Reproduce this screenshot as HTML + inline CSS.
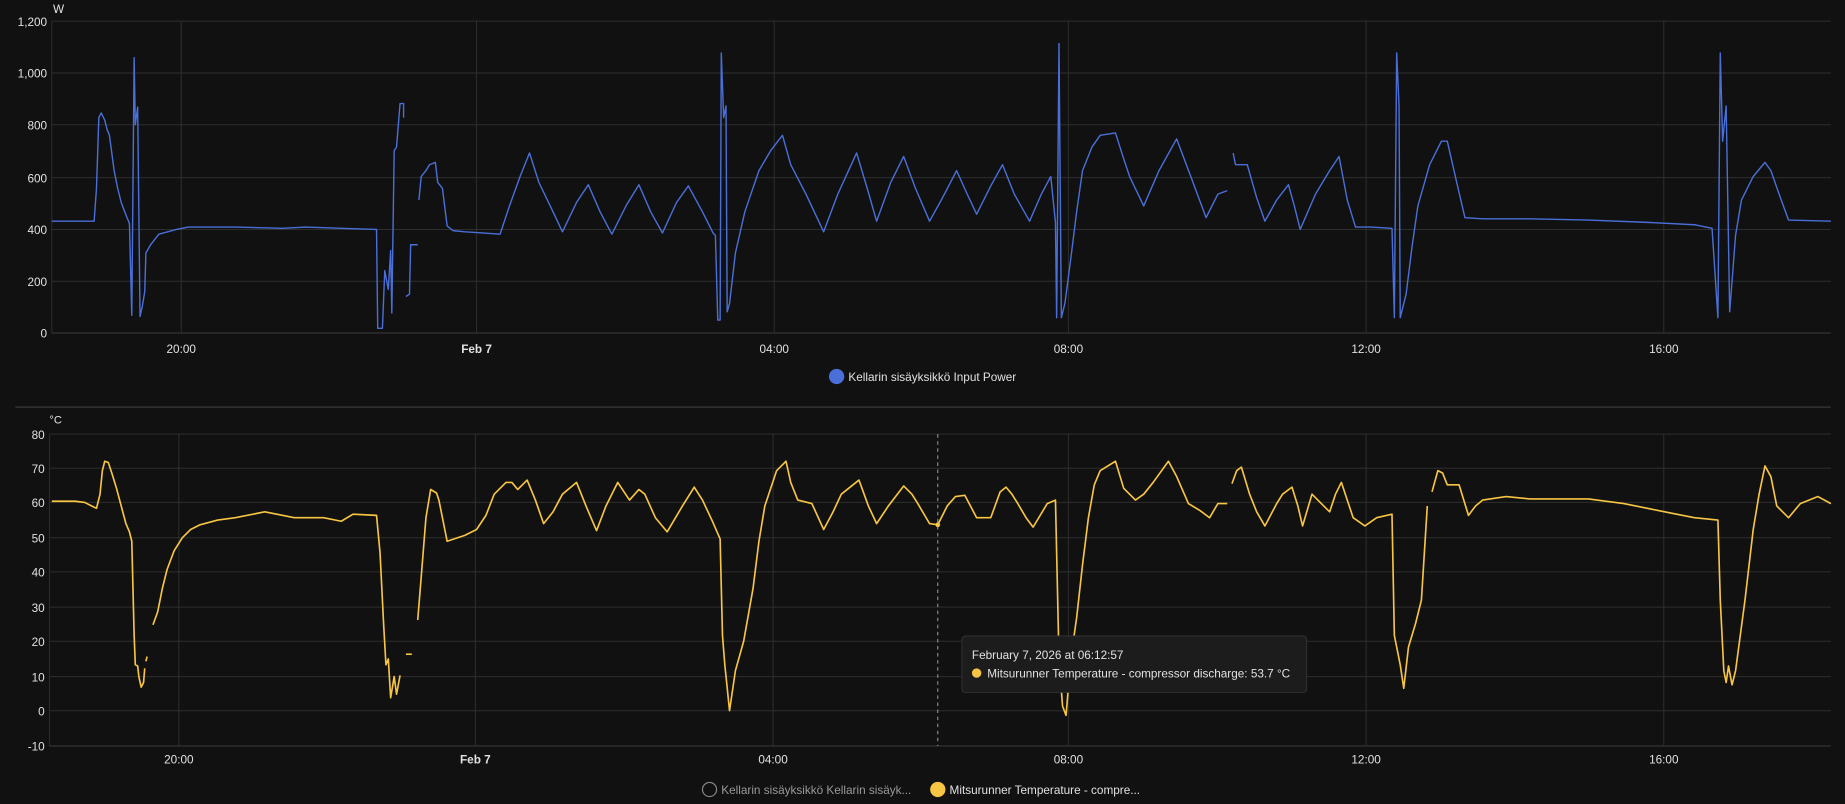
<!DOCTYPE html>
<html><head><meta charset="utf-8"><style>
html,body{margin:0;padding:0;background:#111111;width:1845px;height:804px;overflow:hidden}
svg{display:block}
text{font-family:"Liberation Sans",sans-serif;fill:#e1e1e1}
</style></head><body>
<svg width="1845" height="804" viewBox="0 0 1568 683.3" preserveAspectRatio="none">
<rect width="1568" height="684" fill="#111111"/>
<g stroke="#2e2e2e" stroke-width="0.85">
<line x1="44" y1="18" x2="1556" y2="18"/><line x1="44" y1="62" x2="1556" y2="62"/><line x1="44" y1="106" x2="1556" y2="106"/><line x1="44" y1="151" x2="1556" y2="151"/><line x1="44" y1="195" x2="1556" y2="195"/><line x1="44" y1="239" x2="1556" y2="239"/><line x1="44" y1="283" x2="1556" y2="283" stroke="#3a3a3a"/>
<line x1="44" y1="18" x2="44" y2="283"/>
<line x1="154" y1="18" x2="154" y2="283"/><line x1="405" y1="18" x2="405" y2="283"/><line x1="658" y1="18" x2="658" y2="283"/><line x1="908" y1="18" x2="908" y2="283"/><line x1="1161" y1="18" x2="1161" y2="283"/><line x1="1414" y1="18" x2="1414" y2="283"/>
</g>
<g font-size="10" text-anchor="end">
<text x="40" y="22">1,200</text><text x="40" y="66">1,000</text><text x="40" y="110">800</text><text x="40" y="155">600</text><text x="40" y="199">400</text><text x="40" y="243">200</text><text x="40" y="287">0</text>
</g>
<text x="45" y="11" font-size="10">W</text>
<g font-size="10" text-anchor="middle">
<text x="154" y="300">20:00</text><text x="405" y="300" font-weight="bold">Feb 7</text><text x="658" y="300">04:00</text><text x="908" y="300">08:00</text><text x="1161" y="300">12:00</text><text x="1414" y="300">16:00</text>
</g>
<circle cx="711" cy="320" r="6.5" fill="#4a6fd8"/>
<text x="721" y="324" font-size="10">Kellarin sisäyksikkö Input Power</text>
<g fill="none" stroke="#4a6fd8" stroke-width="1.2" stroke-linejoin="round">
<polyline points="44,188 80,188 82,160 84,100 86,96 89,102 91,110 93,115 95,130 97,145 100,160 103,172 106,180 110,190 112,268 114,49 115,106 117,91 119,269 121,260 123,248 124,215 128,208 135,199 150,195 160,193 200,193 240,194 260,193 290,194 320,195 321,279 325,279 327,230 330,246 332,213 333,266 335,128 337,125 340,88 343,88 343,100"/>
<polyline points="345,252 348,250 349,208 355,208"/>
<polyline points="356,170 358,150 362,145 365,140 370,138 372,155 376,160 380,192 385,196 395,197 410,198 425,199 433,175 442,150 450,130 458,155 470,180 478,197 490,172 500,157 510,180 520,199 532,175 543,157 553,180 563,198 575,172 585,158 597,180 606,198 608,200 610,272 612,272 613,45 615,100 617,90 618,265 620,258 625,215 633,180 645,145 655,128 665,115 672,140 685,165 700,197 712,165 728,130 737,160 745,188 757,155 768,133 778,160 790,188 800,170 813,145 822,165 830,182 842,158 852,140 862,165 875,188 885,165 893,150 897,189 898,270 900,37 902,270 905,258 910,220 915,180 920,145 928,125 935,115 948,113 955,135 960,150 972,175 985,145 1000,118 1012,150 1025,185 1035,165 1043,162"/>
<polyline points="1048,130 1050,140 1060,140 1068,168 1075,188 1085,170 1095,157 1100,175 1105,195 1118,165 1130,145 1138,133 1145,170 1152,193 1165,193 1183,194 1185,270 1187,45 1189,90 1190,270 1195,250 1200,210 1205,175 1215,140 1225,120 1230,120 1238,155 1245,185 1260,186 1300,186 1350,187 1400,189 1440,191 1455,194 1460,270 1462,45 1464,120 1467,90 1470,265 1475,200 1480,170 1490,150 1500,138 1505,145 1512,165 1520,187 1556,188"/>
</g>
<line x1="13" y1="346" x2="1556" y2="346" stroke="#333" stroke-width="1.2"/>
<g stroke="#2e2e2e" stroke-width="0.85">
<line x1="42" y1="369" x2="1556" y2="369"/><line x1="42" y1="398" x2="1556" y2="398"/><line x1="42" y1="427" x2="1556" y2="427"/><line x1="42" y1="457" x2="1556" y2="457"/><line x1="42" y1="486" x2="1556" y2="486"/><line x1="42" y1="516" x2="1556" y2="516"/><line x1="42" y1="545" x2="1556" y2="545"/><line x1="42" y1="575" x2="1556" y2="575"/><line x1="42" y1="604" x2="1556" y2="604"/><line x1="42" y1="634" x2="1556" y2="634" stroke="#3a3a3a"/>
<line x1="42" y1="369" x2="42" y2="634"/>
<line x1="152" y1="369" x2="152" y2="634"/><line x1="404" y1="369" x2="404" y2="634"/><line x1="657" y1="369" x2="657" y2="634"/><line x1="908" y1="369" x2="908" y2="634"/><line x1="1161" y1="369" x2="1161" y2="634"/><line x1="1414" y1="369" x2="1414" y2="634"/>
</g>
<g font-size="10" text-anchor="end">
<text x="38" y="373">80</text><text x="38" y="402">70</text><text x="38" y="431">60</text><text x="38" y="461">50</text><text x="38" y="490">40</text><text x="38" y="520">30</text><text x="38" y="549">20</text><text x="38" y="579">10</text><text x="38" y="608">0</text><text x="38" y="638">-10</text>
</g>
<text x="42" y="360" font-size="9.5">°C</text>
<g font-size="10" text-anchor="middle">
<text x="152" y="649">20:00</text><text x="404" y="649" font-weight="bold">Feb 7</text><text x="657" y="649">04:00</text><text x="908" y="649">08:00</text><text x="1161" y="649">12:00</text><text x="1414" y="649">16:00</text>
</g>
<line x1="797" y1="369" x2="797" y2="634" stroke="#9aa" stroke-width="0.8" stroke-dasharray="3,3"/>
<g fill="none" stroke="#f7c544" stroke-width="1.4" stroke-linejoin="round">
<polyline points="44,426 64,426 72,427 78,430 82,432 85,420 87,400 89,392 92,393 95,402 99,415 103,430 107,445 110,452 112,460 114,540 115,565 117,566 118,575 120,584 122,580 123,568"/>
<polyline points="124,562 125,558"/>
<polyline points="130,531 134,520 138,500 142,484 148,468 155,457 162,450 170,446 185,442 200,440 225,435 240,438 250,440 275,440 290,443 300,437 320,438 323,470 326,530 328,565 330,560 332,593 335,575 337,590 340,574"/>
<polyline points="345,556 350,556"/>
<polyline points="355,527 358,490 362,440 366,416 371,419 373,425 380,460 386,458 395,455 405,450 413,438 420,420 430,410 435,410 440,416 448,408 455,425 462,445 470,435 478,420 490,410 498,430 507,451 515,430 525,410 535,425 543,416 548,420 557,440 567,452 580,430 590,414 597,425 605,442 612,458 614,540 616,565 620,604 625,570 632,545 640,500 645,460 650,430 660,400 668,392 672,410 678,425 690,428 700,450 708,435 715,420 730,408 738,430 745,445 755,430 768,413 775,420 780,428 790,445 797,446 805,430 812,422 820,421 830,440 842,440 850,418 855,414 860,420 865,428 872,440 878,448 890,428 897,425 900,560 903,600 906,608 910,560 915,525 920,480 925,440 930,412 935,400 948,392 955,415 965,425 972,420 980,410 993,392 1000,405 1010,428 1020,434 1028,440 1035,428 1043,428"/>
<polyline points="1047,411 1051,400 1055,397 1062,420 1068,435 1075,447 1085,428 1090,420 1098,414 1103,430 1107,447 1115,420 1120,425 1130,435 1135,420 1140,410 1145,425 1150,440 1160,447 1170,440 1183,437 1185,540 1190,565 1193,585 1197,550 1203,530 1208,510 1213,430"/>
<polyline points="1217,418 1222,400 1226,402 1230,412 1240,412 1248,438 1254,430 1260,425 1280,422 1300,424 1350,424 1380,428 1400,432 1420,436 1440,440 1460,442 1462,510 1465,570 1467,580 1469,566 1472,582 1475,570 1483,510 1490,450 1495,420 1500,396 1505,405 1510,430 1520,440 1530,428 1545,422 1556,428"/>
</g>
<circle cx="797" cy="446" r="2" fill="#f7c544"/>
<rect x="817.5" y="540.5" width="293" height="48" rx="3" fill="#1c1c1c" stroke="#333" stroke-width="0.8"/>
<text x="826" y="560" font-size="10">February 7, 2026 at 06:12:57</text>
<circle cx="830" cy="572" r="4" fill="#f7c544"/>
<text x="839" y="576" font-size="10">Mitsurunner Temperature - compressor discharge: 53.7 °C</text>
<circle cx="603" cy="671" r="6" fill="none" stroke="#888" stroke-width="1"/>
<text x="613" y="675" font-size="10" style="fill:#999">Kellarin sisäyksikkö Kellarin sisäyk...</text>
<circle cx="797" cy="671" r="6.5" fill="#f7c544"/>
<text x="807" y="675" font-size="10">Mitsurunner Temperature - compre...</text>
</svg>
</body></html>
